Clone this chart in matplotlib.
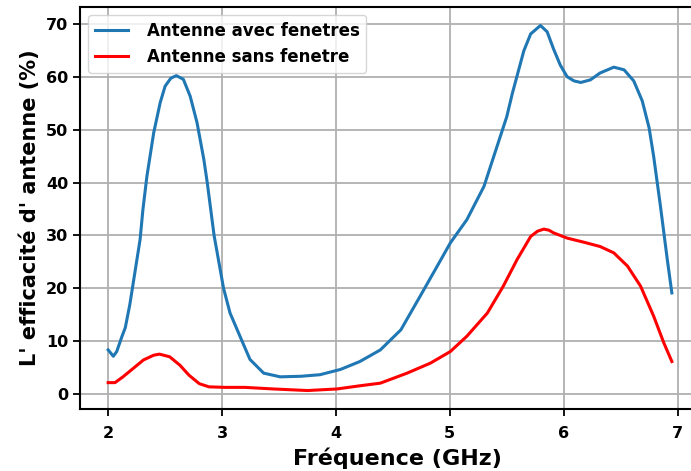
import matplotlib.pyplot as plt

# Antenne avec fenetres (blue)
freq_avec = [2.0, 2.045, 2.075, 2.12, 2.15, 2.19, 2.28, 2.305, 2.34, 2.40,
             2.457, 2.50, 2.55, 2.598, 2.66, 2.72, 2.78, 2.84, 2.87, 2.93,
             3.013, 3.07, 3.175, 3.245, 3.365, 3.51, 3.69, 3.86, 4.04, 4.21,
             4.39, 4.57, 4.74, 4.89, 5.005, 5.15, 5.30, 5.415, 5.50, 5.55,
             5.60, 5.65, 5.71, 5.796, 5.855, 5.91, 5.97, 6.03, 6.09, 6.15,
             6.235, 6.32, 6.44, 6.53, 6.615, 6.69, 6.75, 6.79, 6.85, 6.91, 6.95]
eff_avec = [8.3, 7.1, 8.0, 10.8, 12.5, 16.9, 29.2, 34.9, 41.2, 49.5,
            55.2, 58.3, 59.8, 60.3, 59.6, 56.4, 51.4, 44.4, 40.0, 30.0,
            20.0, 15.3, 10.0, 6.5, 3.9, 3.2, 3.3, 3.6, 4.6, 6.1,
            8.3, 12.1, 18.5, 24.2, 28.6, 33.0, 39.3, 46.9, 52.5, 57.0,
            61.0, 65.0, 68.2, 69.8, 68.6, 65.4, 62.3, 60.1, 59.3, 59.0,
            59.5, 60.8, 61.9, 61.4, 59.3, 55.5, 50.4, 45.0, 35.5, 25.4, 19.1]

# Antenne sans fenetre (red)
freq_sans = [2.0, 2.06, 2.13, 2.22, 2.31, 2.40, 2.45, 2.54, 2.63, 2.71,
             2.80, 2.885, 3.03, 3.2, 3.45, 3.75, 4.01, 4.21, 4.39, 4.625,
             4.83, 5.005, 5.15, 5.33, 5.47, 5.59, 5.71, 5.77, 5.825, 5.87,
             5.91, 6.03, 6.18, 6.32, 6.44, 6.56, 6.675, 6.79, 6.88, 6.95]
eff_sans = [2.1, 2.1, 3.2, 4.8, 6.4, 7.3, 7.5, 7.0, 5.4, 3.5,
            1.9, 1.3, 1.2, 1.2, 0.9, 0.6, 0.9, 1.5, 2.0, 3.9,
            5.8, 8.0, 10.9, 15.3, 20.4, 25.4, 29.8, 30.8, 31.2, 31.0,
            30.5, 29.5, 28.7, 27.9, 26.7, 24.2, 20.4, 14.7, 9.6, 6.1]

fig = plt.figure(figsize=(6.91, 4.71), dpi=100)
# axes run past the right edge of the figure (the original was cropped)
ax = fig.add_axes([80 / 691, 1 - 409 / 471, 634 / 691, 402.5 / 471])

ax.plot(freq_avec, eff_avec, color="#1f77b4", linewidth=2.2, label="Antenne avec fenetres")
ax.plot(freq_sans, eff_sans, color="red", linewidth=2.2, label="Antenne sans fenetre")

ax.set_xlim(1.7525, 7.32)
ax.set_ylim(-2.9, 73.4)
ax.set_xticks([2, 3, 4, 5, 6, 7])
ax.set_yticks([0, 10, 20, 30, 40, 50, 60, 70])
ax.grid(True, color="#b0b0b0", linewidth=1.3)
for s in ax.spines.values():
    s.set_linewidth(1.5)
ax.spines["right"].set_visible(False)
ax.tick_params(width=1.3, length=5, labelsize=11.5)
ax.tick_params(axis="x", pad=7)
for lab in ax.get_xticklabels() + ax.get_yticklabels():
    lab.set_fontweight("bold")

ax.set_xlabel("Fréquence (GHz)", fontsize=16, fontweight="bold", labelpad=5)
ax.set_ylabel("L' efficacité d' antenne (%)", fontsize=15, fontweight="bold")
ax.legend(loc="upper left", prop={"weight": "bold", "size": 12}, handletextpad=1.1)

fig.savefig("out.png", dpi=100)
